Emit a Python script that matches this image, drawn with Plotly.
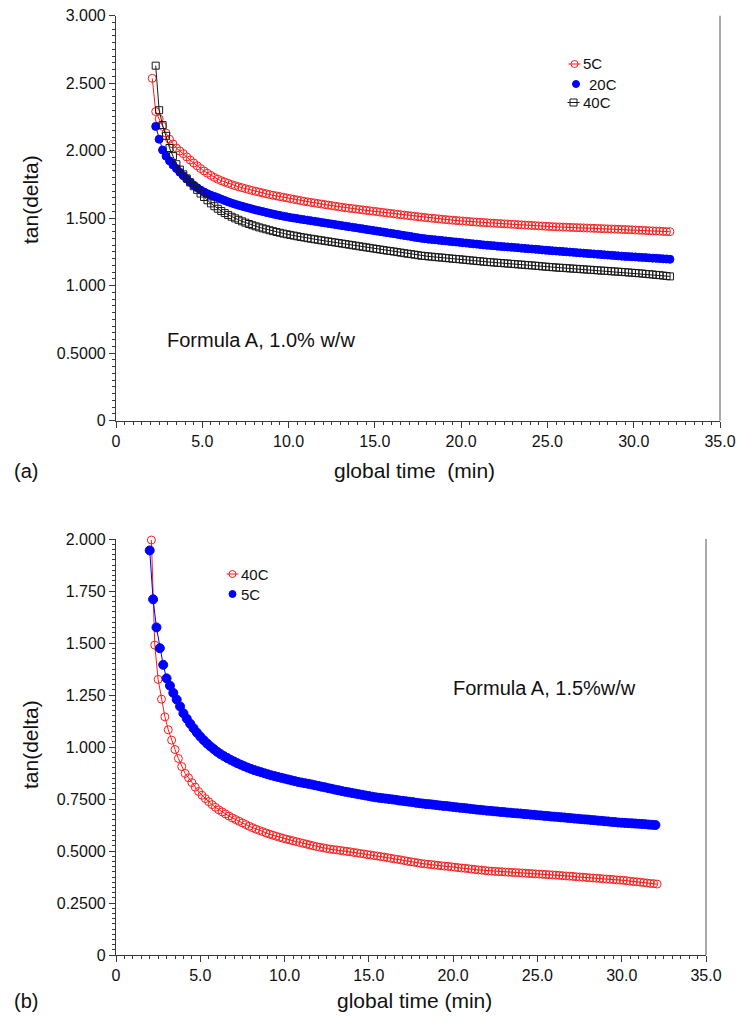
import plotly.graph_objects as go

# ---------------------------------------------------------------------------
# Data: loss tangent vs. global time for Formula A at two concentrations
# ---------------------------------------------------------------------------

# sampling times (min)
time_a = [
    2.1, 2.3, 2.5, 2.7, 2.9, 3.1, 3.3, 3.5, 3.7, 3.9,
    4.1, 4.3, 4.5, 4.7, 4.9, 5.1, 5.3, 5.5, 5.7, 5.9,
    6.1, 6.3, 6.5, 6.7, 6.9, 7.1, 7.3, 7.5, 7.7, 7.9,
    8.1, 8.3, 8.5, 8.7, 8.9, 9.1, 9.3, 9.5, 9.7, 9.9,
    10.1, 10.3, 10.5, 10.7, 10.9, 11.1, 11.3, 11.5, 11.7, 11.9,
    12.1, 12.3, 12.5, 12.7, 12.9, 13.1, 13.3, 13.5, 13.7, 13.9,
    14.1, 14.3, 14.5, 14.7, 14.9, 15.1, 15.3, 15.5, 15.7, 15.9,
    16.1, 16.3, 16.5, 16.7, 16.9, 17.1, 17.3, 17.5, 17.7, 17.9,
    18.1, 18.3, 18.5, 18.7, 18.9, 19.1, 19.3, 19.5, 19.7, 19.9,
    20.1, 20.3, 20.5, 20.7, 20.9, 21.1, 21.3, 21.5, 21.7, 21.9,
    22.1, 22.3, 22.5, 22.7, 22.9, 23.1, 23.3, 23.5, 23.7, 23.9,
    24.1, 24.3, 24.5, 24.7, 24.9, 25.1, 25.3, 25.5, 25.7, 25.9,
    26.1, 26.3, 26.5, 26.7, 26.9, 27.1, 27.3, 27.5, 27.7, 27.9,
    28.1, 28.3, 28.5, 28.7, 28.9, 29.1, 29.3, 29.5, 29.7, 29.9,
    30.1, 30.3, 30.5, 30.7, 30.9, 31.1, 31.3, 31.5, 31.7, 31.9,
    32.1,
]

time_b = [
    2.0, 2.2, 2.4, 2.6, 2.8, 3.0, 3.2, 3.4, 3.6, 3.8,
    4.0, 4.2, 4.4, 4.6, 4.8, 5.0, 5.2, 5.4, 5.6, 5.8,
    6.0, 6.2, 6.4, 6.6, 6.8, 7.0, 7.2, 7.4, 7.6, 7.8,
    8.0, 8.2, 8.4, 8.6, 8.8, 9.0, 9.2, 9.4, 9.6, 9.8,
    10.0, 10.2, 10.4, 10.6, 10.8, 11.0, 11.2, 11.4, 11.6, 11.8,
    12.0, 12.2, 12.4, 12.6, 12.8, 13.0, 13.2, 13.4, 13.6, 13.8,
    14.0, 14.2, 14.4, 14.6, 14.8, 15.0, 15.2, 15.4, 15.6, 15.8,
    16.0, 16.2, 16.4, 16.6, 16.8, 17.0, 17.2, 17.4, 17.6, 17.8,
    18.0, 18.2, 18.4, 18.6, 18.8, 19.0, 19.2, 19.4, 19.6, 19.8,
    20.0, 20.2, 20.4, 20.6, 20.8, 21.0, 21.2, 21.4, 21.6, 21.8,
    22.0, 22.2, 22.4, 22.6, 22.8, 23.0, 23.2, 23.4, 23.6, 23.8,
    24.0, 24.2, 24.4, 24.6, 24.8, 25.0, 25.2, 25.4, 25.6, 25.8,
    26.0, 26.2, 26.4, 26.6, 26.8, 27.0, 27.2, 27.4, 27.6, 27.8,
    28.0, 28.2, 28.4, 28.6, 28.8, 29.0, 29.2, 29.4, 29.6, 29.8,
    30.0, 30.2, 30.4, 30.6, 30.8, 31.0, 31.2, 31.4, 31.6, 31.8,
    32.0,
]

# (a) Formula A, 1.0% w/w
tan_a_5c = [
    2.536, 2.290, 2.235, 2.180, 2.130, 2.085, 2.050, 2.020, 1.998, 1.978,
    1.954, 1.931, 1.909, 1.888, 1.868, 1.850, 1.833, 1.817, 1.802, 1.789,
    1.778, 1.768, 1.758, 1.749, 1.741, 1.733, 1.726, 1.719, 1.712, 1.705,
    1.699, 1.693, 1.687, 1.681, 1.675, 1.670, 1.665, 1.660, 1.655, 1.650,
    1.645, 1.640, 1.635, 1.630, 1.625, 1.621, 1.617, 1.613, 1.609, 1.605,
    1.601, 1.597, 1.593, 1.589, 1.585, 1.581, 1.577, 1.574, 1.571, 1.568,
    1.565, 1.561, 1.558, 1.555, 1.552, 1.549, 1.545, 1.542, 1.539, 1.536,
    1.533, 1.529, 1.526, 1.523, 1.520, 1.517, 1.514, 1.511, 1.508, 1.505,
    1.502, 1.500, 1.497, 1.495, 1.492, 1.490, 1.487, 1.485, 1.483, 1.481,
    1.479, 1.477, 1.475, 1.473, 1.471, 1.469, 1.468, 1.466, 1.464, 1.463,
    1.461, 1.460, 1.458, 1.457, 1.455, 1.454, 1.452, 1.451, 1.449, 1.448,
    1.446, 1.445, 1.443, 1.442, 1.440, 1.439, 1.437, 1.436, 1.435, 1.434,
    1.433, 1.432, 1.431, 1.430, 1.429, 1.428, 1.427, 1.426, 1.425, 1.424,
    1.423, 1.422, 1.421, 1.420, 1.419, 1.418, 1.417, 1.416, 1.415, 1.414,
    1.412, 1.411, 1.410, 1.409, 1.407, 1.406, 1.405, 1.404, 1.402, 1.401,
    1.400,
]

# the 20C and 40C runs start one sample later (time_a[1:])
tan_a_20c = [
    2.180, 2.085, 2.005, 1.960, 1.925, 1.895, 1.868, 1.840, 1.815,
    1.790, 1.766, 1.745, 1.726, 1.708, 1.694, 1.681, 1.670, 1.661, 1.652,
    1.641, 1.631, 1.621, 1.612, 1.604, 1.596, 1.589, 1.582, 1.575, 1.568,
    1.561, 1.555, 1.549, 1.543, 1.537, 1.531, 1.525, 1.520, 1.515, 1.510,
    1.505, 1.501, 1.497, 1.493, 1.489, 1.485, 1.481, 1.477, 1.473, 1.469,
    1.465, 1.461, 1.457, 1.453, 1.449, 1.445, 1.441, 1.437, 1.433, 1.429,
    1.425, 1.421, 1.417, 1.413, 1.409, 1.405, 1.401, 1.397, 1.393, 1.389,
    1.385, 1.381, 1.376, 1.372, 1.368, 1.364, 1.359, 1.355, 1.351, 1.348,
    1.345, 1.342, 1.340, 1.337, 1.334, 1.332, 1.329, 1.326, 1.324, 1.321,
    1.318, 1.316, 1.313, 1.310, 1.308, 1.305, 1.302, 1.300, 1.298, 1.296,
    1.293, 1.291, 1.289, 1.287, 1.285, 1.283, 1.281, 1.278, 1.276, 1.274,
    1.272, 1.270, 1.268, 1.265, 1.263, 1.261, 1.259, 1.257, 1.255, 1.253,
    1.251, 1.249, 1.247, 1.245, 1.243, 1.241, 1.239, 1.237, 1.235, 1.233,
    1.231, 1.229, 1.227, 1.225, 1.223, 1.221, 1.219, 1.217, 1.216, 1.214,
    1.213, 1.211, 1.209, 1.208, 1.206, 1.204, 1.203, 1.201, 1.199, 1.198,
    1.196,
]

tan_a_40c = [
    2.630, 2.300, 2.190, 2.110, 2.020, 1.960, 1.900, 1.860, 1.825,
    1.795, 1.765, 1.737, 1.710, 1.683, 1.657, 1.633, 1.610, 1.589, 1.570,
    1.553, 1.538, 1.524, 1.511, 1.499, 1.488, 1.477, 1.467, 1.457, 1.448,
    1.440, 1.432, 1.425, 1.418, 1.411, 1.404, 1.398, 1.392, 1.386, 1.381,
    1.376, 1.371, 1.366, 1.361, 1.357, 1.352, 1.348, 1.344, 1.340, 1.336,
    1.332, 1.328, 1.324, 1.320, 1.316, 1.312, 1.308, 1.304, 1.300, 1.296,
    1.292, 1.288, 1.284, 1.280, 1.276, 1.272, 1.268, 1.264, 1.260, 1.257,
    1.253, 1.249, 1.245, 1.241, 1.237, 1.234, 1.230, 1.226, 1.222, 1.220,
    1.217, 1.215, 1.212, 1.210, 1.208, 1.205, 1.203, 1.200, 1.198, 1.196,
    1.193, 1.191, 1.188, 1.186, 1.183, 1.181, 1.178, 1.176, 1.174, 1.172,
    1.170, 1.168, 1.166, 1.164, 1.162, 1.160, 1.158, 1.156, 1.154, 1.152,
    1.150, 1.148, 1.146, 1.143, 1.141, 1.139, 1.137, 1.135, 1.133, 1.132,
    1.130, 1.128, 1.126, 1.125, 1.123, 1.121, 1.119, 1.118, 1.116, 1.114,
    1.112, 1.111, 1.109, 1.107, 1.105, 1.104, 1.102, 1.100, 1.098, 1.096,
    1.094, 1.092, 1.090, 1.087, 1.085, 1.083, 1.080, 1.078, 1.075, 1.072,
    1.069,
]

# (b) Formula A, 1.5% w/w
tan_b_40c = [
    1.995, 1.490, 1.325, 1.230, 1.145, 1.083, 1.033, 0.988, 0.945, 0.906,
    0.873, 0.852, 0.829, 0.807, 0.786, 0.768, 0.752, 0.737, 0.723, 0.710,
    0.698, 0.688, 0.678, 0.668, 0.659, 0.651, 0.643, 0.635, 0.627, 0.619,
    0.612, 0.605, 0.599, 0.593, 0.587, 0.581, 0.576, 0.571, 0.566, 0.561,
    0.557, 0.553, 0.549, 0.545, 0.541, 0.537, 0.533, 0.529, 0.525, 0.521,
    0.518, 0.515, 0.512, 0.509, 0.507, 0.505, 0.503, 0.500, 0.498, 0.496,
    0.493, 0.491, 0.488, 0.486, 0.483, 0.481, 0.478, 0.476, 0.473, 0.471,
    0.468, 0.465, 0.462, 0.460, 0.457, 0.454, 0.451, 0.448, 0.446, 0.443,
    0.440, 0.438, 0.436, 0.435, 0.433, 0.431, 0.429, 0.427, 0.426, 0.424,
    0.422, 0.420, 0.418, 0.417, 0.415, 0.413, 0.411, 0.409, 0.408, 0.406,
    0.404, 0.403, 0.402, 0.401, 0.400, 0.399, 0.398, 0.397, 0.396, 0.395,
    0.394, 0.393, 0.392, 0.391, 0.390, 0.389, 0.388, 0.387, 0.386, 0.385,
    0.384, 0.383, 0.381, 0.380, 0.379, 0.378, 0.376, 0.375, 0.374, 0.373,
    0.371, 0.370, 0.369, 0.368, 0.366, 0.365, 0.364, 0.363, 0.361, 0.360,
    0.359, 0.357, 0.355, 0.353, 0.352, 0.350, 0.348, 0.346, 0.344, 0.343,
    0.341,
]

tan_b_5c = [
    1.945, 1.710, 1.575, 1.475, 1.395, 1.330, 1.295, 1.260, 1.228, 1.195,
    1.162, 1.136, 1.112, 1.090, 1.069, 1.050, 1.033, 1.017, 1.003, 0.990,
    0.977, 0.966, 0.956, 0.947, 0.938, 0.930, 0.922, 0.915, 0.908, 0.901,
    0.895, 0.889, 0.884, 0.879, 0.874, 0.869, 0.864, 0.860, 0.856, 0.852,
    0.848, 0.844, 0.840, 0.836, 0.832, 0.829, 0.826, 0.823, 0.820, 0.816,
    0.813, 0.809, 0.806, 0.802, 0.799, 0.795, 0.792, 0.788, 0.785, 0.782,
    0.779, 0.776, 0.773, 0.770, 0.767, 0.764, 0.761, 0.758, 0.756, 0.754,
    0.752, 0.750, 0.748, 0.746, 0.743, 0.741, 0.739, 0.737, 0.735, 0.732,
    0.730, 0.728, 0.726, 0.725, 0.723, 0.721, 0.719, 0.717, 0.716, 0.714,
    0.712, 0.710, 0.708, 0.707, 0.705, 0.703, 0.701, 0.699, 0.698, 0.696,
    0.694, 0.693, 0.691, 0.690, 0.688, 0.687, 0.685, 0.684, 0.682, 0.681,
    0.680, 0.678, 0.677, 0.675, 0.674, 0.672, 0.671, 0.669, 0.668, 0.666,
    0.665, 0.664, 0.662, 0.661, 0.659, 0.658, 0.656, 0.655, 0.653, 0.652,
    0.651, 0.649, 0.648, 0.646, 0.645, 0.643, 0.642, 0.640, 0.639, 0.637,
    0.636, 0.635, 0.634, 0.633, 0.632, 0.631, 0.630, 0.629, 0.627, 0.626,
    0.625,
]

# axis ticks
x_ticks = [0, 5, 10, 15, 20, 25, 30, 35]
x_labels = ["0", "5.0", "10.0", "15.0", "20.0", "25.0", "30.0", "35.0"]
ya_ticks = [0, 0.5, 1.0, 1.5, 2.0, 2.5, 3.0]
ya_labels = ["0", "0.5000", "1.000", "1.500", "2.000", "2.500", "3.000"]
yb_ticks = [0, 0.25, 0.5, 0.75, 1.0, 1.25, 1.5, 1.75, 2.0]
yb_labels = ["0", "0.2500", "0.5000", "0.7500", "1.000", "1.250", "1.500", "1.750", "2.000"]

# ---------------------------------------------------------------------------
# Figure
# ---------------------------------------------------------------------------
W, H = 738, 1023
FONT = "Liberation Sans, Arial, Helvetica, sans-serif"
AXIS_COL = "#3a3a3a"
RED, BLUE, BLACK = "#ff1a1a", "#0000ff", "#1a1a1a"


def px(x):
    return x / W


def py(y):
    return 1 - y / H


def series(x, y, color, symbol, size, axes):
    return go.Scatter(
        x=x, y=y, mode="lines+markers",
        xaxis=axes[0], yaxis=axes[1], cliponaxis=False,
        line=dict(color=color, width=1),
        marker=dict(symbol=symbol, size=size, color=color,
                    line=dict(color=color, width=1)),
        showlegend=False, hoverinfo="x+y",
    )


fig = go.Figure()
fig.add_trace(series(time_a, tan_a_5c, RED, "circle-open", 8, ("x", "y")))
fig.add_trace(series(time_a[1:], tan_a_20c, BLUE, "circle", 8, ("x", "y")))
fig.add_trace(series(time_a[1:], tan_a_40c, BLACK, "square-open", 7, ("x", "y")))
fig.add_trace(series(time_a, tan_b_40c, RED, "circle-open", 8, ("x2", "y2")))
fig.add_trace(series(time_b, tan_b_5c, BLUE, "circle", 9, ("x2", "y2")))


def xaxis(domain, anchor):
    return dict(
        domain=domain, anchor=anchor, range=[0, 35], automargin=False,
        tickmode="array", tickvals=x_ticks, ticktext=x_labels,
        ticks="outside", ticklen=6, tickwidth=1, tickcolor=AXIS_COL,
        showline=True, linecolor=AXIS_COL, linewidth=1.2,
        showgrid=False, zeroline=False,
        tickfont=dict(family=FONT, size=16, color="#111"),
        minor=dict(tick0=0, dtick=0.5, ticks="outside", ticklen=3,
                   tickcolor=AXIS_COL, showgrid=False),
    )


def yaxis(domain, anchor, rng, vals, labels, minor_step):
    return dict(
        domain=domain, anchor=anchor, range=rng, automargin=False,
        tickmode="array", tickvals=vals, ticktext=labels,
        ticks="outside", ticklen=6, tickwidth=1, tickcolor=AXIS_COL,
        showline=True, linecolor=AXIS_COL, linewidth=1.2,
        showgrid=False, zeroline=False,
        tickfont=dict(family=FONT, size=16, color="#111"),
        minor=dict(tick0=0, dtick=minor_step, ticks="outside", ticklen=3,
                   tickcolor=AXIS_COL, showgrid=False),
    )


fig.update_layout(
    width=W, height=H, margin=dict(l=0, r=0, t=0, b=0, autoexpand=False),
    paper_bgcolor="white", plot_bgcolor="white", showlegend=False,
    xaxis=xaxis([px(116), px(720)], "y"),
    yaxis=yaxis([py(420.7), py(15.7)], "x", [0, 3], ya_ticks, ya_labels, 0.05),
    xaxis2=xaxis([px(116), px(706)], "y2"),
    yaxis2=yaxis([py(955), py(539)], "x2", [0, 2], yb_ticks, yb_labels, 0.025),
)

# right-hand frame line of each panel
for xr, yr in (("x domain", "y domain"), ("x2 domain", "y2 domain")):
    fig.add_shape(type="line", xref=xr, yref=yr, x0=1, x1=1, y0=0, y1=1,
                  line=dict(color="#8c8c8c", width=1.5))


def text(x, y, s, size, anchor="center", angle=0):
    fig.add_annotation(x=px(x), y=py(y), xref="paper", yref="paper",
                       text=s, showarrow=False, xanchor=anchor, yanchor="middle",
                       textangle=angle,
                       font=dict(family=FONT, size=size, color="#111"))


# axis titles and panel tags
text(414, 470, "global time\u00a0 (min)", 21)
text(414, 1000, "global time (min)", 21)
text(30, 200, "tan(delta)", 21, angle=-90)
text(30, 745, "tan(delta)", 21, angle=-90)
text(12, 471, "(a)", 20, anchor="left")
text(12, 1001, "(b)", 20, anchor="left")

# panel notes
text(165, 340, "Formula A, 1.0% w/w", 20, anchor="left")
text(451, 688, "Formula A, 1.5%w/w", 20, anchor="left")


# key entries: marker glyph with a short stroke, then its label
def key(x, y, color, kind, filled, label, tx):
    cx, cy = px(x), py(y)
    if not filled:
        fig.add_shape(type="line", xref="paper", yref="paper",
                      xsizemode="pixel", ysizemode="pixel",
                      xanchor=cx, yanchor=cy, x0=-6, x1=6, y0=0, y1=0,
                      line=dict(color=color, width=1))
    fig.add_shape(type="circle" if kind == "circle" else "rect",
                  xref="paper", yref="paper",
                  xsizemode="pixel", ysizemode="pixel",
                  xanchor=cx, yanchor=cy, x0=-3.5, x1=3.5, y0=-3.5, y1=3.5,
                  fillcolor=color if filled else "rgba(0,0,0,0)",
                  line=dict(color=color, width=1))
    text(tx, y, label, 15, anchor="left")


key(574.5, 64, RED, "circle", False, "5C", 581)
key(576, 84, BLUE, "circle", True, "20C", 587)
key(573.5, 102.5, BLACK, "rect", False, "40C", 581)
key(232.5, 574, RED, "circle", False, "40C", 239)
key(232.5, 594, BLUE, "circle", True, "5C", 239)

fig.write_html("out.html")
